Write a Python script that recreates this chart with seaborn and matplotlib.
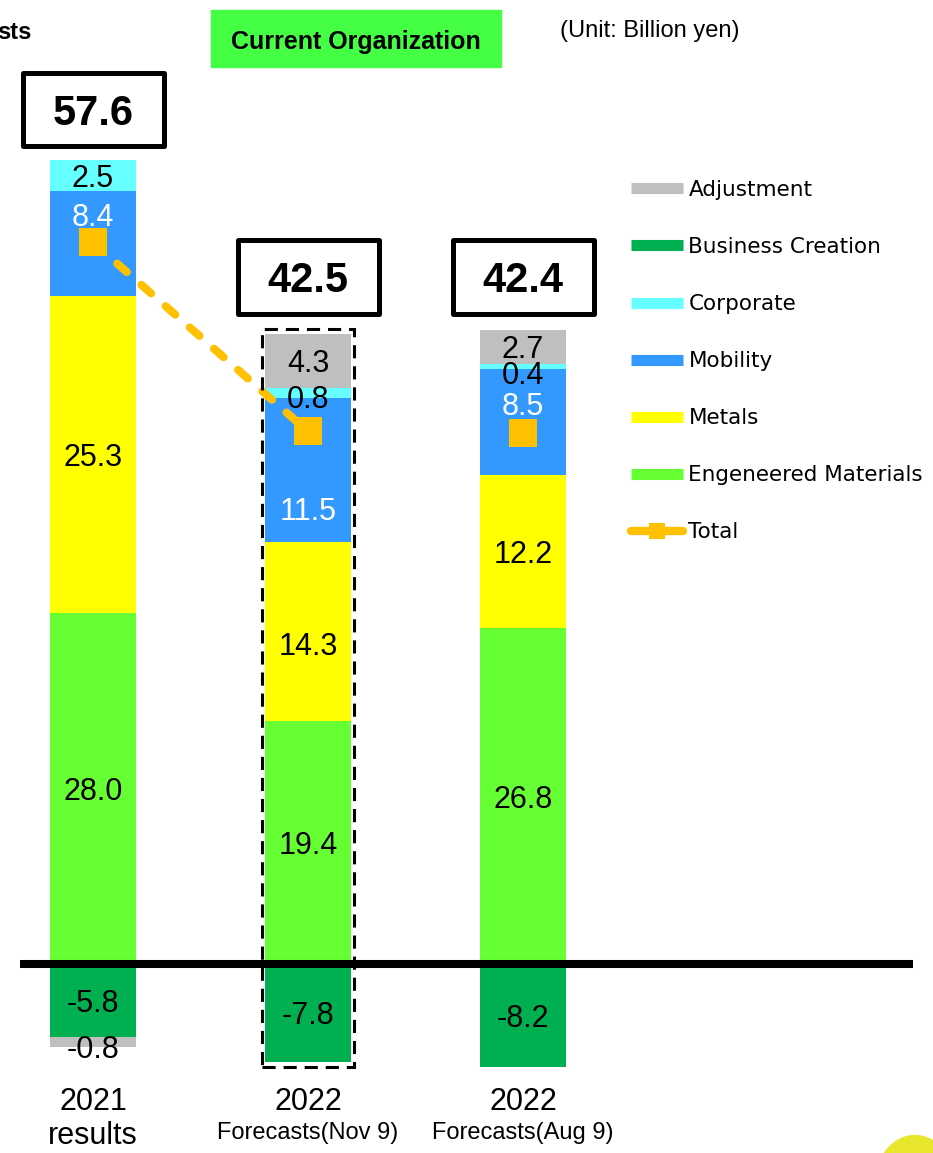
import numpy as np
import pandas as pd
import matplotlib
matplotlib.use("Agg")
import matplotlib.pyplot as plt
from matplotlib.patches import Rectangle, Circle
from matplotlib.lines import Line2D
import seaborn as sns

# ---- data (billion yen) ----
categories = ["2021 results", "2022 Forecasts(Nov 9)", "2022 Forecasts(Aug 9)"]
cat_year = ["2021", "2022", "2022"]
cat_note = ["results", "Forecasts(Nov 9)", "Forecasts(Aug 9)"]

engineered_materials = [28.0, 19.4, 26.8]
metals = [25.3, 14.3, 12.2]
mobility = [8.4, 11.5, 8.5]
corporate = [2.5, 0.8, 0.4]
business_creation = [-5.8, -7.8, -8.2]
adjustment = [-0.8, 4.3, 2.7]
totals = [57.6, 42.5, 42.4]

# ---- styling ----
COLORS = {
    "Adjustment": "#BFBFBF",
    "Business Creation": "#00B050",
    "Corporate": "#66FFFF",
    "Mobility": "#3399FF",
    "Metals": "#FFFF00",
    "Engeneered Materials": "#66FF33",
}
TOTAL_COLOR = "#FFC000"

# stacking order (positive stack grows up, negative stack grows down)
stack = [
    ("Engeneered Materials", engineered_materials),
    ("Metals", metals),
    ("Mobility", mobility),
    ("Corporate", corporate),
    ("Business Creation", business_creation),
    ("Adjustment", adjustment),
]
label_color = {"Mobility": "white"}
# small vertical nudges of value labels (in data units)
label_nudge = {
    ("Mobility", 0): 2.3, ("Metals", 1): -1.0, ("Mobility", 1): -3.1,
    ("Mobility", 2): 1.5, ("Adjustment", 0): -0.4,
    ("Corporate", 1): -0.3, ("Corporate", 2): -0.5,
}

W, H = 933, 1153
X0, XSTEP = 93.0, 215.0      # pixel position of first bar centre and spacing
Y0, YSCALE = 964.0, 12.53    # pixel row of zero and pixels per unit

sns.set_theme(style="white")
plt.rcParams["font.family"] = ["Liberation Sans", "DejaVu Sans"]
plt.rcParams["text.color"] = "black"

fig = plt.figure(figsize=(W / 100, H / 100), dpi=100)
ax = fig.add_axes([0, 0, 1, 1])


def fx(px):
    return px / W


def fy(py):
    return 1 - py / H


def yval(py):
    return (Y0 - py) / YSCALE


pos_base = np.zeros(len(categories))
neg_base = np.zeros(len(categories))
label_items = []
for name, vals in stack:
    vals = np.asarray(vals, dtype=float)
    bottoms = np.where(vals >= 0, pos_base, neg_base)
    df = pd.DataFrame({"category": categories, "value": vals})
    sns.barplot(data=df, x="category", y="value", order=categories,
                bottom=bottoms, color=COLORS[name], saturation=1,
                width=0.4, errorbar=None, linewidth=0, edgecolor="none",
                ax=ax, zorder=2)
    for i, v in enumerate(vals):
        label_items.append((name, i, v, bottoms[i] + v / 2))
    pos_base = np.where(vals >= 0, pos_base + vals, pos_base)
    neg_base = np.where(vals < 0, neg_base + vals, neg_base)

for name, i, v, yc in label_items:
    ax.text(i, yc + label_nudge.get((name, i), 0.0), f"{v:.1f}",
            ha="center", va="center_baseline", fontsize=22,
            color=label_color.get(name, "black"), zorder=6)

# total line (results -> latest forecast) and markers
xs = np.arange(len(categories))
ax.plot(xs[:2], totals[:2], color=TOTAL_COLOR, lw=5.8,
        linestyle=(0, (1.6, 2.4)), dash_capstyle="round", zorder=4)
ax.plot(xs, totals, ls="none", marker="s", ms=19.5, color=TOTAL_COLOR,
        markeredgewidth=0, zorder=5)

# zero line
ax.plot([(20 - X0) / XSTEP, (913 - X0) / XSTEP], [0, 0], color="black",
        lw=5.8, solid_capstyle="butt", zorder=7)

# dashed frame around the latest forecast
pad_x, pad_y = 0.014, 0.4
ax.add_patch(Rectangle((1 - 0.2 - pad_x, neg_base[1] - pad_y),
                       0.4 + 2 * pad_x,
                       pos_base[1] - neg_base[1] + 2 * pad_y,
                       fill=False, ec="black", lw=2.2,
                       linestyle=(0, (4.3, 2.6)), zorder=8))

# total value boxes
box_center_px = [109.5, 277.0, 277.0]
box_w, box_h = 141 / XSTEP, 73 / YSCALE
for i, t in enumerate(totals):
    yc = yval(box_center_px[i])
    ax.add_patch(Rectangle((i - box_w / 2, yc - box_h / 2), box_w, box_h,
                           fill=False, ec="black", lw=3.6,
                           joinstyle="round", zorder=8))
    ax.text(i, yc, f"{t:.1f}", ha="center", va="center_baseline",
            fontsize=30, fontweight="bold", color="black", zorder=9)

# category labels
for i in range(len(categories)):
    ax.text(i, yval(1099), cat_year[i], ha="center", va="center_baseline",
            fontsize=22)
    if i == 0:
        ax.text(i, yval(1133), cat_note[i], ha="center",
                va="center_baseline", fontsize=22)
    else:
        ax.text(i, yval(1130), cat_note[i], ha="center",
                va="center_baseline", fontsize=17)

ax.set_xlim(-X0 / XSTEP, (W - X0) / XSTEP)
ax.set_ylim(yval(H), yval(0))
ax.set_axis_off()

# header texts
fig.text(fx(31), fy(30), "sts", ha="right", va="center_baseline",
         fontsize=17, fontweight="bold")
fig.patches.append(Rectangle((fx(211), fy(67)), fx(290), 57 / H,
                             transform=fig.transFigure, color="#44FF44",
                             zorder=0))
fig.text(fx(356), fy(40), "Current Organization", ha="center",
         va="center_baseline", fontsize=18, fontweight="bold")
fig.text(fx(560), fy(28), "(Unit: Billion yen)", ha="left",
         va="center_baseline", fontsize=17)

# corner decoration
fig.patches.append(Circle((fx(915), fy(1185)), 40 / W,
                          transform=fig.transFigure, color="#E8E62A"))

# legend
legend_order = ["Adjustment", "Business Creation", "Corporate", "Mobility",
                "Metals", "Engeneered Materials"]
handles = [Line2D([], [], color=COLORS[n], lw=8, solid_capstyle="butt")
           for n in legend_order]
handles.append(Line2D([], [], color=TOTAL_COLOR, lw=6, marker="s", ms=11,
                      solid_capstyle="round", markeredgewidth=0))
leg = fig.legend(handles, legend_order + ["Total"], loc="upper left",
                 bbox_to_anchor=(fx(631), fy(180)),
                 bbox_transform=fig.transFigure,
                 frameon=False, borderpad=0, borderaxespad=0,
                 handlelength=2.42, handletextpad=0.25, labelspacing=1.72,
                 prop={"family": "DejaVu Sans", "size": 15.5})
for txt in leg.get_texts():
    txt.set_color("black")

fig.savefig("out.png", dpi=100)
